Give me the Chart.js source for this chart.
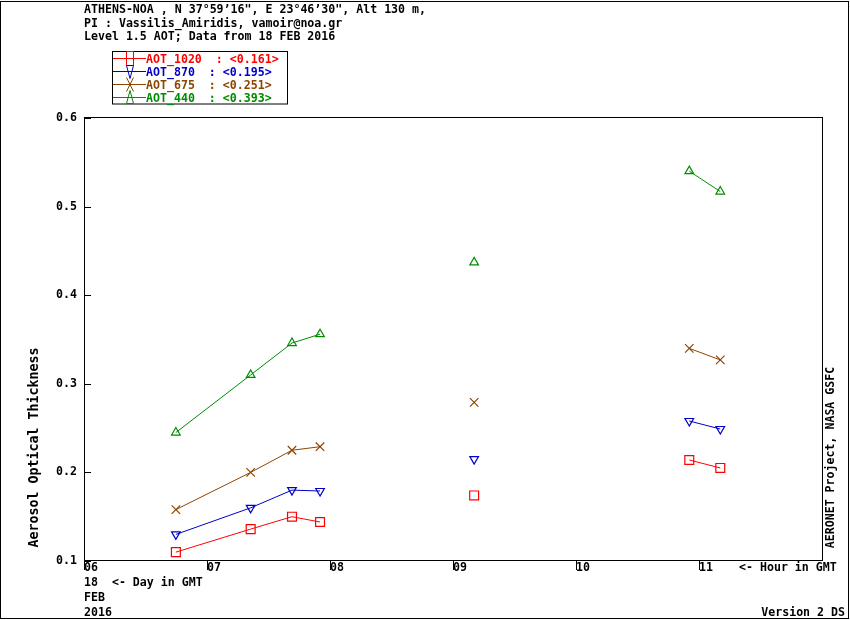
<!DOCTYPE html>
<html>
<head>
<meta charset="utf-8">
<script src="https://cdn.jsdelivr.net/npm/chart.js@4/dist/chart.umd.min.js"></script>
<style>
  html, body { margin: 0; padding: 0; background: #fff; }
  canvas { display: block; }
</style>
</head>
<body>
<canvas id="aotChart" width="850" height="620"></canvas>
<script>
// Measurement times (hour in GMT, 18 FEB 2016)
const hours = [6.747, 7.355, 7.691, 7.919, 9.172, 10.921, 11.173];
// AOT per wavelength
const aot1020 = [0.110, 0.136, 0.150, 0.144, 0.174, 0.214, 0.205];
const aot870 = [0.130, 0.160, 0.180, 0.179, 0.215, 0.258, 0.249];
const aot675 = [0.158, 0.200, 0.225, 0.229, 0.279, 0.340, 0.327];
const aot440 = [0.245, 0.310, 0.346, 0.356, 0.437, 0.540, 0.517];

const seriesNames = ["AOT_1020", "AOT_870", "AOT_675", "AOT_440"];
const seriesMeans = ["0.161", "0.195", "0.251", "0.393"];
const seriesColors = ["#ff0000", "#0000c8", "#8c4600", "#008c00"];

const titleLines = [
    "ATHENS-NOA , N 37°59’16\", E 23°46’30\", Alt 130 m,",
    "PI : Vassilis_Amiridis, vamoir@noa.gr",
    "Level 1.5 AOT; Data from 18 FEB 2016"
];

const FONT = "bold 11.6px 'DejaVu Sans Mono'";
const MAX_GAP = 1.0; // hours, no line drawn over bigger gaps

function makeSeries(values, i, style, radius, rotation) {
    const color = seriesColors[i];
    return {
        label: seriesNames[i],
        data: hours.map((h, k) => ({ x: h, y: values[k] })),
        borderColor: color,
        borderWidth: 1,
        pointStyle: style,
        pointRadius: radius,
        pointRotation: rotation || 0,
        pointBorderColor: color,
        pointBackgroundColor: "rgba(0,0,0,0)",
        pointBorderWidth: 1.2,
        tension: 0,
        segment: {
            borderColor: ctx => (ctx.p1.parsed.x - ctx.p0.parsed.x > MAX_GAP) ? "rgba(0,0,0,0)" : color
        }
    };
}

// Legend marker shapes (tall, narrow like in the original)
function legendMarker(ctx, kind, x, y) {
    ctx.beginPath();
    if (kind === 0) {
        ctx.rect(x - 3.5, y - 7, 7, 14);
    } else if (kind === 1) {
        ctx.moveTo(x - 3.5, y - 6); ctx.lineTo(x + 3.5, y - 6); ctx.lineTo(x, y + 7); ctx.closePath();
    } else if (kind === 2) {
        ctx.moveTo(x - 3.5, y - 7); ctx.lineTo(x + 3.5, y + 7);
        ctx.moveTo(x + 3.5, y - 7); ctx.lineTo(x - 3.5, y + 7);
    } else {
        ctx.moveTo(x - 3.5, y + 6); ctx.lineTo(x + 3.5, y + 6); ctx.lineTo(x, y - 7); ctx.closePath();
    }
    ctx.stroke();
}

const decorations = {
    id: "decorations",
    afterDraw(chart) {
        const ctx = chart.ctx;
        const a = chart.chartArea;
        const xs = chart.scales.x, ys = chart.scales.y;
        ctx.save();
        ctx.strokeStyle = "#000";
        ctx.lineWidth = 1;

        // outer frame and plot box
        ctx.strokeRect(0.5, 1.5, 848, 617);
        ctx.strokeRect(Math.round(a.left) + 0.5, Math.round(a.top) - 0.5, Math.round(a.right - a.left), Math.round(a.bottom - a.top));

        // tick marks: x downward, y inward
        ctx.beginPath();
        xs.ticks.forEach(t => {
            if (t.value >= 12) return;
            const px = Math.round(xs.getPixelForValue(t.value)) + 0.5;
            ctx.moveTo(px, a.bottom); ctx.lineTo(px, a.bottom + 9);
        });
        ys.ticks.forEach(t => {
            const py = Math.round(ys.getPixelForValue(t.value)) + 0.5;
            ctx.moveTo(a.left, py); ctx.lineTo(a.left + 7, py);
        });
        ctx.stroke();

        ctx.fillStyle = "#000";
        ctx.font = FONT;
        ctx.textBaseline = "alphabetic";
        ctx.textAlign = "left";
        titleLines.forEach((t, i) => ctx.fillText(t, 84, 13 + i * 13.5));

        ctx.fillText("<- Hour in GMT", 739, 571);
        ctx.fillText("18  <- Day in GMT", 84, 586);
        ctx.fillText("FEB", 84, 601);
        ctx.fillText("2016", 84, 616);
        ctx.textAlign = "right";
        ctx.fillText("Version 2 DS", 845, 616);

        // rotated axis titles
        ctx.textAlign = "center";
        ctx.save();
        ctx.translate(38, 447.5);
        ctx.rotate(-Math.PI / 2);
        ctx.font = "bold 13.3px 'DejaVu Sans Mono'";
        ctx.fillText("Aerosol Optical Thickness", 0, 0);
        ctx.restore();
        ctx.save();
        ctx.translate(834, 457.5);
        ctx.rotate(-Math.PI / 2);
        ctx.fillText("AERONET Project, NASA GSFC", 0, 0);
        ctx.restore();

        // legend
        ctx.textAlign = "left";
        ctx.strokeStyle = "#000";
        ctx.strokeRect(112.5, 51.5, 175, 52.5);
        seriesNames.forEach((name, i) => {
            const y = 58.5 + i * 13;
            ctx.strokeStyle = seriesColors[i];
            ctx.fillStyle = seriesColors[i];
            ctx.beginPath();
            ctx.moveTo(113, y); ctx.lineTo(146, y);
            ctx.stroke();
            legendMarker(ctx, i, 130, y);
            ctx.fillText(name + "  : <" + seriesMeans[i] + ">", 146, y + 4.5);
        });
        ctx.restore();
    }
};

new Chart(document.getElementById("aotChart"), {
    type: "line",
    data: {
        datasets: [
            makeSeries(aot1020, 0, "rect", 6.3),
            makeSeries(aot870, 1, "triangle", 5, 180),
            makeSeries(aot675, 2, "crossRot", 6),
            makeSeries(aot440, 3, "triangle", 5)
        ]
    },
    options: {
        responsive: false,
        devicePixelRatio: 1,
        animation: false,
        layout: { padding: { left: 0, right: 28, top: 118, bottom: 0 } },
        plugins: { legend: { display: false }, tooltip: { enabled: false } },
        scales: {
            x: {
                type: "linear",
                min: 6, max: 12,
                afterFit: s => { s.height = 59; },
                grid: { display: false, drawTicks: false },
                border: { display: false },
                ticks: {
                    stepSize: 1,
                    align: "start",
                    padding: 0,
                    color: "#000",
                    font: { family: "DejaVu Sans Mono", size: 11.6, weight: "bold" },
                    callback: v => v >= 12 ? null : (v < 10 ? "0" + v : "" + v)
                }
            },
            y: {
                min: 0.1, max: 0.6,
                afterFit: s => { s.width = 84; },
                grid: { display: false, drawTicks: false },
                border: { display: false },
                ticks: {
                    stepSize: 0.1,
                    padding: 7,
                    color: "#000",
                    font: { family: "DejaVu Sans Mono", size: 11.6, weight: "bold" },
                    callback: v => v.toFixed(1)
                }
            }
        }
    },
    plugins: [decorations]
});
</script>
</body>
</html>
